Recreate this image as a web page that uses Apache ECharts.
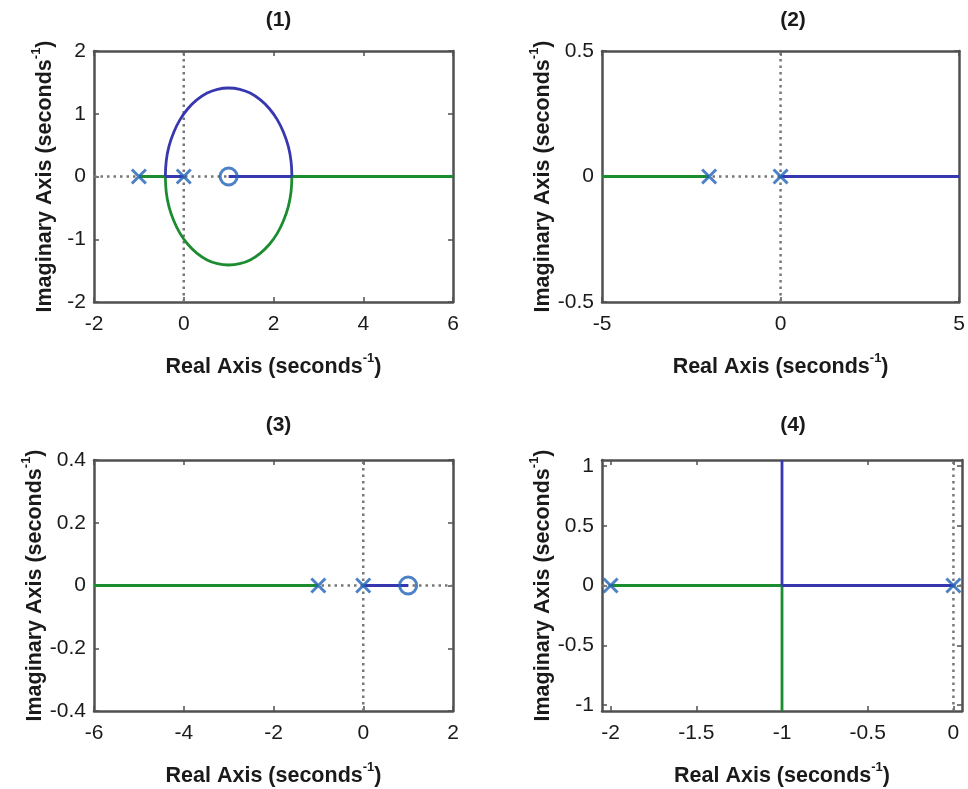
<!DOCTYPE html>
<html>
<head>
<meta charset="utf-8">
<script src="https://cdn.jsdelivr.net/npm/echarts@6/dist/echarts.min.js"></script>
<style>
  html, body { margin: 0; padding: 0; background: #fff; }
  #chart { width: 968px; height: 789px; }
</style>
</head>
<body>
<div id="chart"></div>
<script>
// ---- Root locus data for the four systems ----
// Panel titles
const panelTitles = ['(1)', '(2)', '(3)', '(4)'];

// Axis ranges and tick labels
const xRanges = [[-2, 6], [-5, 5], [-6, 2], [-2.05, 0.05]];
const yRanges = [[-2, 2], [-0.5, 0.5], [-0.4, 0.4], [-1.05, 1.05]];
const xTicks = [[-2, 0, 2, 4, 6], [-5, 0, 5], [-6, -4, -2, 0, 2], [-2, -1.5, -1, -0.5, 0]];
const yTicks = [[-2, -1, 0, 1, 2], [-0.5, 0, 0.5], [-0.4, -0.2, 0, 0.2, 0.4], [-1, -0.5, 0, 0.5, 1]];

// System (1): poles at -1 and 0, zero at 1; the complex branches trace a circle about s = 1
const poles1 = [[-1, 0], [0, 0]];
const zeros1 = [[1, 0]];
const blueReal1a = [[0, 0], [-0.41, 0]];
const blueArc1 = [[-0.41, 0], [-0.39, 0.25], [-0.33, 0.48], [-0.22, 0.71], [-0.08, 0.91], [0.09, 1.08],
                  [0.29, 1.22], [0.52, 1.33], [0.75, 1.39], [1.0, 1.41], [1.25, 1.39], [1.48, 1.33],
                  [1.71, 1.22], [1.91, 1.08], [2.08, 0.91], [2.22, 0.71], [2.33, 0.48], [2.39, 0.25], [2.41, 0]];
const blueReal1b = [[2.41, 0], [1, 0]];
const greenReal1a = [[-1, 0], [-0.41, 0]];
const greenArc1 = [[-0.41, 0], [-0.39, -0.25], [-0.33, -0.48], [-0.22, -0.71], [-0.08, -0.91], [0.09, -1.08],
                   [0.29, -1.22], [0.52, -1.33], [0.75, -1.39], [1.0, -1.41], [1.25, -1.39], [1.48, -1.33],
                   [1.71, -1.22], [1.91, -1.08], [2.08, -0.91], [2.22, -0.71], [2.33, -0.48], [2.39, -0.25], [2.41, 0]];
const greenReal1b = [[2.41, 0], [6, 0]];

// System (2): poles at -2 and 0
const poles2 = [[-2, 0], [0, 0]];
const green2 = [[-2, 0], [-5, 0]];
const blue2 = [[0, 0], [5, 0]];

// System (3): poles at -1 and 0, zero at 1
const poles3 = [[-1, 0], [0, 0]];
const zeros3 = [[1, 0]];
const green3 = [[-1, 0], [-6, 0]];
const blue3 = [[0, 0], [1, 0]];

// System (4): poles at -2 and 0, branches leave the real axis at -1
const poles4 = [[-2, 0], [0, 0]];
const green4h = [[-2, 0], [-1, 0]];
const green4v = [[-1, 0], [-1, -1.05]];
const blue4h = [[0, 0], [-1, 0]];
const blue4v = [[-1, 0], [-1, 1.05]];

// ---- Styling ----
const FONT = "'Liberation Sans', Arial, Helvetica, sans-serif";
const FRAME = '#505050';
const BLUE_LINE = '#3737b0';
const GREEN_LINE = '#1c8c30';
const MARK = '#1f62b8';
const DOT = '#777777';

const grids = [
  { left: 94, top: 51, width: 359, height: 251 },
  { left: 602, top: 51, width: 360, height: 251 },
  { left: 94, top: 460, width: 359, height: 251 },
  { left: 602, top: 460, width: 360, height: 251 }
];

const richName = {
  b: { fontFamily: FONT, fontWeight: 'bold', fontSize: 21.5, color: '#1a1a1a', lineHeight: 26, verticalAlign: 'bottom' },
  s: { fontFamily: FONT, fontWeight: 'bold', fontSize: 13, color: '#1a1a1a', lineHeight: 26, verticalAlign: 'top' }
};

function axisPair(kind, i) {
  const range = kind === 'x' ? xRanges[i] : yRanges[i];
  const ticks = kind === 'x' ? xTicks[i] : yTicks[i];
  const base = {
    gridIndex: i,
    type: 'value',
    min: range[0],
    max: range[1],
    splitLine: { show: false },
    axisLine: { show: true, onZero: false, lineStyle: { color: FRAME, width: 2.5 } },
    axisTick: { show: true, inside: true, length: 5, customValues: ticks, lineStyle: { color: FRAME, width: 1.5 } }
  };
  const main = Object.assign({}, base, {
    position: kind === 'x' ? 'bottom' : 'left',
    axisLabel: {
      show: true, customValues: ticks, fontFamily: FONT, fontSize: 21, color: '#1a1a1a',
      margin: kind === 'x' ? 12 : 8
    },
    nameLocation: 'middle',
    nameGap: kind === 'x' ? 50 : 38,
    nameRotate: kind === 'x' ? 0 : 90,
    name: kind === 'x' ? '{b|Real Axis (seconds}{s|-1}{b|)}' : '{b|Imaginary Axis (seconds}{s|-1}{b|)}',
    nameTextStyle: { rich: richName }
  });
  const opp = Object.assign({}, base, {
    position: kind === 'x' ? 'top' : 'right',
    axisLabel: { show: false }
  });
  return [main, opp];
}

const xAxes = [], yAxes = [];
for (let i = 0; i < 4; i++) {
  xAxes.push(...axisPair('x', i));
  yAxes.push(...axisPair('y', i));
}

const series = [];
function addLine(i, data, color, opts) {
  series.push(Object.assign({
    type: 'line', xAxisIndex: 2 * i, yAxisIndex: 2 * i, data: data,
    showSymbol: false, symbol: 'none', silent: true, animation: false,
    lineStyle: { color: color, width: 2.8 }
  }, opts || {}));
}
function addDotted(i) {
  const xr = xRanges[i], yr = yRanges[i];
  const dotted = { lineStyle: { color: DOT, width: 2.5, type: [2.5, 4] } };
  addLine(i, [[xr[0], 0], [xr[1], 0]], DOT, dotted);
  addLine(i, [[0, yr[0]], [0, yr[1]]], DOT, dotted);
}
function addPoles(i, data) {
  series.push({
    type: 'scatter', xAxisIndex: 2 * i, yAxisIndex: 2 * i, data: data, silent: true, animation: false,
    symbol: 'path://M0,0L10,10M10,0L0,10', symbolSize: 14, z: 5,
    itemStyle: { color: 'rgba(0,0,0,0)', borderColor: MARK, borderWidth: 3 }
  });
}
function addZeros(i, data) {
  series.push({
    type: 'scatter', xAxisIndex: 2 * i, yAxisIndex: 2 * i, data: data, silent: true, animation: false,
    symbol: 'circle', symbolSize: 17, z: 5,
    itemStyle: { color: 'rgba(0,0,0,0)', borderColor: MARK, borderWidth: 3 }
  });
}

// Panel 1
addDotted(0);
addLine(0, greenReal1a, GREEN_LINE);
addLine(0, greenArc1, GREEN_LINE, { smooth: 0.4 });
addLine(0, greenReal1b, GREEN_LINE);
addLine(0, blueReal1a, BLUE_LINE);
addLine(0, blueArc1, BLUE_LINE, { smooth: 0.4 });
addLine(0, blueReal1b, BLUE_LINE);
addPoles(0, poles1);
addZeros(0, zeros1);

// Panel 2
addDotted(1);
addLine(1, green2, GREEN_LINE);
addLine(1, blue2, BLUE_LINE);
addPoles(1, poles2);

// Panel 3
addDotted(2);
addLine(2, green3, GREEN_LINE);
addLine(2, blue3, BLUE_LINE);
addPoles(2, poles3);
addZeros(2, zeros3);

// Panel 4
addDotted(3);
addLine(3, green4h, GREEN_LINE);
addLine(3, green4v, GREEN_LINE);
addLine(3, blue4h, BLUE_LINE);
addLine(3, blue4v, BLUE_LINE);
addPoles(3, poles4);

const titles = panelTitles.map((t, i) => ({
  text: t,
  left: grids[i].left + grids[i].width / 2 + (i % 2 === 1 ? 6 : 0),
  top: i < 2 ? 5 : 410,
  textAlign: 'center',
  textStyle: { fontFamily: FONT, fontWeight: 'bold', fontSize: 21, color: '#1a1a1a' }
}));

const chart = echarts.init(document.getElementById('chart'), null, { renderer: 'canvas' });
chart.setOption({
  backgroundColor: '#ffffff',
  animation: false,
  title: titles,
  grid: grids,
  xAxis: xAxes,
  yAxis: yAxes,
  series: series
});
</script>
</body>
</html>
